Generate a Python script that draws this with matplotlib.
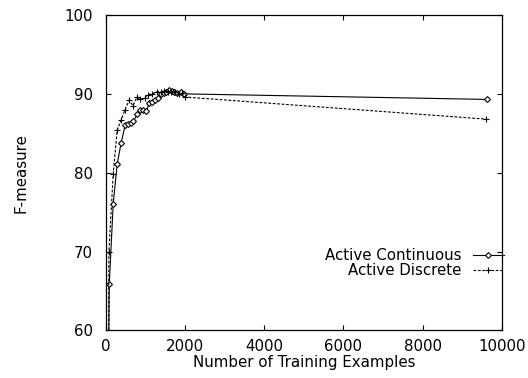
import matplotlib
matplotlib.use("Agg")
import matplotlib.pyplot as plt

plt.rcParams['font.family'] = ['DejaVu Sans']

cont_x = [50, 90, 190, 290, 390, 490, 570, 640, 700, 800, 870, 950, 1020, 1100,
          1180, 1250, 1310, 1390, 1460, 1520, 1590, 1670, 1730, 1810, 1890, 1970, 9610]
cont_y = [40, 65.9, 76.1, 81.1, 83.8, 86.0, 86.2, 86.3, 86.5, 87.5, 87.9, 87.9, 87.8, 88.8,
          89.0, 89.2, 89.5, 90.0, 90.1, 90.3, 90.5, 90.4, 90.2, 90.1, 90.3, 90.0, 89.3]

disc_x = [60, 80, 190, 290, 390, 490, 590, 690, 790, 870, 980, 1070, 1180, 1290,
          1390, 1480, 1570, 1660, 1750, 1840, 1920, 2000, 9600]
disc_y = [40, 69.9, 79.9, 85.4, 86.7, 88.0, 89.2, 88.5, 89.6, 89.3, 89.5, 89.9, 90.0, 90.3,
          90.2, 90.4, 90.3, 90.2, 90.3, 90.0, 90.1, 89.6, 86.8]

x_ticks = [0, 2000, 4000, 6000, 8000, 10000]
y_ticks = [60, 70, 80, 90, 100]

FS = 10.8

fig = plt.figure(figsize=(5.28, 3.78), dpi=100)
ax = fig.add_axes([0.2002, 0.1257, 0.7506, 0.8346])

ax.plot(cont_x, cont_y, color='black', lw=0.8, marker='D', ms=3,
        mfc='white', mec='black', mew=0.8, label='Active Continuous')
ax.plot(disc_x, disc_y, color='black', lw=0.8, linestyle=(0, (2.5, 1.5)),
        marker='+', ms=4.5, mew=0.8, label='Active Discrete')

ax.set_xlim(0, 10000)
ax.set_ylim(60, 100)
ax.set_xticks(x_ticks)
ax.set_yticks(y_ticks)
ax.tick_params(direction='in', length=3.5, width=0.8, top=True, right=True,
               labelsize=FS)
ax.tick_params(axis='x', pad=6)
ax.tick_params(axis='y', pad=9)
for s in ax.spines.values():
    s.set_linewidth(0.9)

ax.set_xlabel('Number of Training Examples', fontsize=FS, labelpad=1)
ax.set_ylabel('F-measure', fontsize=FS)
ax.yaxis.set_label_coords(-0.195, 0.5)

ax.legend(loc='lower right', bbox_to_anchor=(1.005, 0.166), frameon=False,
          markerfirst=False, fontsize=FS, handlelength=2.07, handletextpad=0.75,
          labelspacing=0.0, borderpad=0, borderaxespad=0)

fig.savefig('out.png', dpi=100)
